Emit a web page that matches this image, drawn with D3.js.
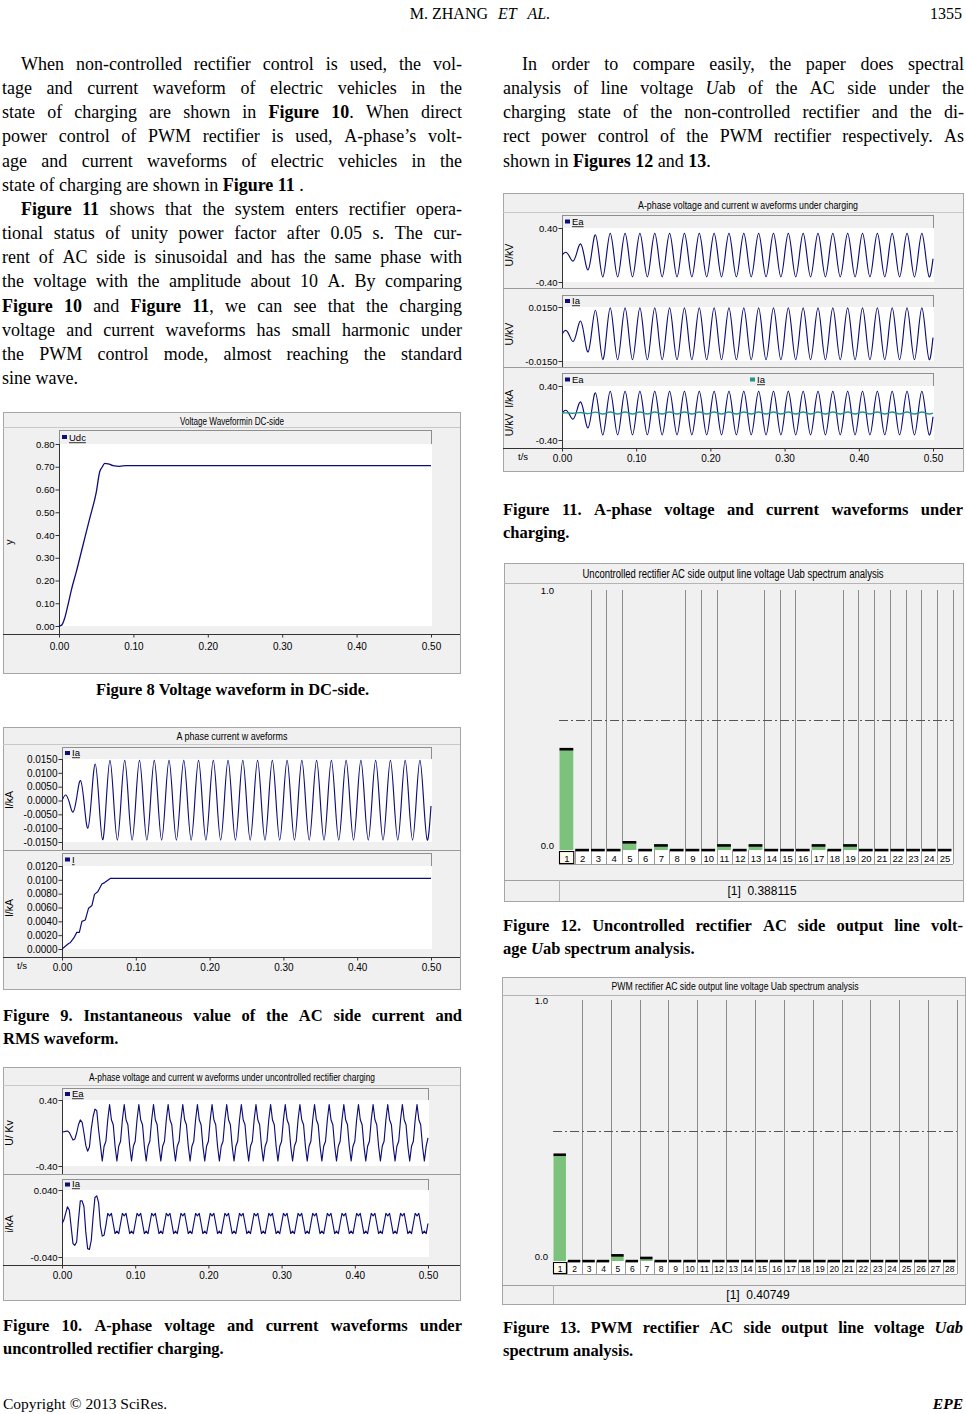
<!DOCTYPE html>
<html><head><meta charset="utf-8">
<script src="https://cdn.jsdelivr.net/npm/d3@7/dist/d3.min.js"></script>
<style>html,body{margin:0;padding:0;background:#fff;} svg{display:block;}</style>
</head><body>
<svg id="page" width="966" height="1414" xmlns="http://www.w3.org/2000/svg"></svg>
<script>
// ================= DATA =================
const timeTickLabels = ["0.00","0.10","0.20","0.30","0.40","0.50"];

// Figure 8: DC-side voltage Udc (t in s, value)
const udcT = [0,0.0036,0.0076,0.012,0.0166,0.0233,0.0323,0.0413,0.0502,0.0547,0.0583,0.0614,0.066,0.0726,0.0816,0.09,0.2,0.3,0.4,0.5];
const udcV = [0,0.004,0.034,0.092,0.158,0.239,0.356,0.473,0.59,0.678,0.70,0.715,0.713,0.705,0.702,0.705,0.705,0.705,0.705,0.705];
const fig8YTicks = ["0.00","0.10","0.20","0.30","0.40","0.50","0.60","0.70","0.80"];

// sample instants, 5 ms apart (PWM waveforms)
const t5 = [0,.005,.01,.015,.02,.025,.03,.035,.04,.045,.05,.055,.06,.065,.07,.075,.08,.085,.09,.095,
.1,.105,.11,.115,.12,.125,.13,.135,.14,.145,.15,.155,.16,.165,.17,.175,.18,.185,.19,.195,
.2,.205,.21,.215,.22,.225,.23,.235,.24,.245,.25,.255,.26,.265,.27,.275,.28,.285,.29,.295,
.3,.305,.31,.315,.32,.325,.33,.335,.34,.345,.35,.355,.36,.365,.37,.375,.38,.385,.39,.395,
.4,.405,.41,.415,.42,.425,.43,.435,.44,.445,.45,.455,.46,.465,.47,.475,.48,.485,.49,.495,.5];

// PWM rectifier A-phase current Ia (kA), read at t5
const iaPwm = [0,.0020,-.0008,-.0042,.0012,.0072,-.0010,-.0100,.0012,.0132,0,-.0142,0,.0145,0,-.0143,0,.0145,0,-.0143,
0,.0145,0,-.0143,0,.0145,0,-.0143,0,.0145,0,-.0143,0,.0145,0,-.0143,0,.0145,0,-.0143,
0,.0145,0,-.0143,0,.0145,0,-.0143,0,.0145,0,-.0143,0,.0145,0,-.0143,0,.0145,0,-.0143,
0,.0145,0,-.0143,0,.0145,0,-.0143,0,.0145,0,-.0143,0,.0145,0,-.0143,0,.0145,0,-.0143,
0,.0145,0,-.0143,0,.0145,0,-.0143,0,.0145,0,-.0143,0,.0145,0,-.0143,0,.0145,0,-.0143,-.0020];

// PWM rectifier A-phase voltage Ea (kV), read at t5
const eaPwm = [0,.04,-.02,-.09,.035,.165,-.02,-.22,.03,.30,-.01,-.325,0,.32,0,-.325,0,.32,0,-.325,
0,.32,0,-.325,0,.32,0,-.325,0,.32,0,-.325,0,.32,0,-.325,0,.32,0,-.325,
0,.32,0,-.325,0,.32,0,-.325,0,.32,0,-.325,0,.32,0,-.325,0,.32,0,-.325,
0,.32,0,-.325,0,.32,0,-.325,0,.32,0,-.325,0,.32,0,-.325,0,.32,0,-.325,
0,.32,0,-.325,0,.32,0,-.325,0,.32,0,-.325,0,.32,0,-.325,0,.32,0,-.325,-.056];

// Figure 9: RMS current I (kA)
const irmsT = [0,0.009,0.011,0.016,0.020,0.0235,0.027,0.0316,0.036,0.0406,0.044,0.0487,0.054,0.0578,0.0654,0.07,0.5];
const irmsV = [0,0.0008,0.0009,0.0016,0.0024,0.0024,0.0040,0.0042,0.0059,0.0063,0.0079,0.0083,0.0094,0.0096,0.0102,0.0102,0.0102];
const fig9aYTicks = ["-0.0150","-0.0100","-0.0050","0.0000","0.0050","0.0100","0.0150"];
const fig9bYTicks = ["0.0000","0.0020","0.0040","0.0060","0.0080","0.0100","0.0120"];

// sample instants, 2.5 ms apart (uncontrolled rectifier waveforms)
const t25 = [0,.0025,.005,.0075,.01,.0125,.015,.0175,.02,.0225,.025,.0275,.03,.0325,.035,.0375,.04,.0425,.045,.0475,
.05,.0525,.055,.0575,.06,.0625,.065,.0675,.07,.0725,.075,.0775,.08,.0825,.085,.0875,.09,.0925,.095,.0975,
.1,.1025,.105,.1075,.11,.1125,.115,.1175,.12,.1225,.125,.1275,.13,.1325,.135,.1375,.14,.1425,.145,.1475,
.15,.1525,.155,.1575,.16,.1625,.165,.1675,.17,.1725,.175,.1775,.18,.1825,.185,.1875,.19,.1925,.195,.1975,
.2,.2025,.205,.2075,.21,.2125,.215,.2175,.22,.2225,.225,.2275,.23,.2325,.235,.2375,.24,.2425,.245,.2475,
.25,.2525,.255,.2575,.26,.2625,.265,.2675,.27,.2725,.275,.2775,.28,.2825,.285,.2875,.29,.2925,.295,.2975,
.3,.3025,.305,.3075,.31,.3125,.315,.3175,.32,.3225,.325,.3275,.33,.3325,.335,.3375,.34,.3425,.345,.3475,
.35,.3525,.355,.3575,.36,.3625,.365,.3675,.37,.3725,.375,.3775,.38,.3825,.385,.3875,.39,.3925,.395,.3975,
.4,.4025,.405,.4075,.41,.4125,.415,.4175,.42,.4225,.425,.4275,.43,.4325,.435,.4375,.44,.4425,.445,.4475,
.45,.4525,.455,.4575,.46,.4625,.465,.4675,.47,.4725,.475,.4775,.48,.4825,.485,.4875,.49,.4925,.495,.4975,.5];

// Figure 10: uncontrolled rectifier Ea (kV), read at t25
const eaUnc = [.010,.015,.020,.024,.005,-.040,-.085,-.075,.000,.100,.158,.130,.000,-.150,-.220,-.170,.050,.200,.290,.270,
.040,-.150,-.340,-.160,-.100,.160,.345,.160,.100,-.160,-.340,-.160,-.100,.160,.345,.160,.100,-.160,-.340,-.160,
-.100,.160,.345,.160,.100,-.160,-.340,-.160,-.100,.160,.345,.160,.100,-.160,-.340,-.160,-.100,.160,.345,.160,
.100,-.160,-.340,-.160,-.100,.160,.345,.160,.100,-.160,-.340,-.160,-.100,.160,.345,.160,.100,-.160,-.340,-.160,
-.100,.160,.345,.160,.100,-.160,-.340,-.160,-.100,.160,.345,.160,.100,-.160,-.340,-.160,-.100,.160,.345,.160,
.100,-.160,-.340,-.160,-.100,.160,.345,.160,.100,-.160,-.340,-.160,-.100,.160,.345,.160,.100,-.160,-.340,-.160,
-.100,.160,.345,.160,.100,-.160,-.340,-.160,-.100,.160,.345,.160,.100,-.160,-.340,-.160,-.100,.160,.345,.160,
.100,-.160,-.340,-.160,-.100,.160,.345,.160,.100,-.160,-.340,-.160,-.100,.160,.345,.160,.100,-.160,-.340,-.160,
-.100,.160,.345,.160,.100,-.160,-.340,-.160,-.100,.160,.345,.160,.100,-.160,-.340,-.160,-.100,.160,.345,.160,
.100,-.160,-.340,-.160,-.100,.160,.345,.160,.100,-.160,-.340,-.160,-.100,.160,.345,.160,.100,-.160,-.340,-.160,-.060];

// Figure 10: uncontrolled rectifier Ia (kA), read at t25
const iaUnc = [0,.004,.012,.020,.016,-.004,-.024,-.026,-.022,.004,.027,.027,.020,-.010,-.030,-.031,-.020,.008,.031,.033,
.025,-.003,-.015,-.014,-.002,.012,.009,.012,0,-.012,-.009,-.012,0,.012,.009,.012,0,-.012,-.009,-.012,
0,.012,.009,.012,0,-.012,-.009,-.012,0,.012,.009,.012,0,-.012,-.009,-.012,0,.012,.009,.012,
0,-.012,-.009,-.012,0,.012,.009,.012,0,-.012,-.009,-.012,0,.012,.009,.012,0,-.012,-.009,-.012,
0,.012,.009,.012,0,-.012,-.009,-.012,0,.012,.009,.012,0,-.012,-.009,-.012,0,.012,.009,.012,
0,-.012,-.009,-.012,0,.012,.009,.012,0,-.012,-.009,-.012,0,.012,.009,.012,0,-.012,-.009,-.012,
0,.012,.009,.012,0,-.012,-.009,-.012,0,.012,.009,.012,0,-.012,-.009,-.012,0,.012,.009,.012,
0,-.012,-.009,-.012,0,.012,.009,.012,0,-.012,-.009,-.012,0,.012,.009,.012,0,-.012,-.009,-.012,
0,.012,.009,.012,0,-.012,-.009,-.012,0,.012,.009,.012,0,-.012,-.009,-.012,0,.012,.009,.012,
0,-.012,-.009,-.012,0,.012,.009,.012,0,-.012,-.009,-.012,0,.012,.009,.012,0,-.012,-.009,-.012,0];
const fig10aYTicks = ["-0.40","0.40"];
const fig10bYTicks = ["-0.040","0.040"];
const fig11aYTicks = ["-0.40","0.40"];
const fig11bYTicks = ["-0.0150","0.0150"];

// Figures 12 / 13: harmonic spectra (per-unit, harmonic order 1..n)
const harmUnc = [0.388115,0,0,0,0.030,0,0.018,0,0,0,0.018,0,0.018,0,0,0,0.018,0,0.018,0,0,0,0,0,0];
const harmPwm = [0.40749,0,0,0,0.022,0,0.012,0,0,0,0,0,0,0,0,0,0,0,0,0,0,0,0,0,0,0,0,0];
const specYTicks = ["0.0","1.0"];
const gridUnc = [2,3,4,8,9,10,13,14,15,18,19,20,21,22,23,24,25];
const gridPwm = [2,4,6,8,10,12,14,16,18,20,22,24,26,28];

// Body text
const bodyLeft = [
 ["When non-controlled rectifier control is used, the vol-","i"],
 ["tage and current waveform of electric vehicles in the","j"],
 ["state of charging are shown in **Figure 10**. When direct","j"],
 ["power control of PWM rectifier is used, A-phase’s volt-","j"],
 ["age and current waveforms of electric vehicles in the","j"],
 ["state of charging are shown in **Figure 11** .","l"],
 ["**Figure 11** shows that the system enters rectifier opera-","i"],
 ["tional status of unity power factor after 0.05 s. The cur-","j"],
 ["rent of AC side is sinusoidal and has the same phase with","j"],
 ["the voltage with the amplitude about 10 A. By comparing","j"],
 ["**Figure 10** and **Figure 11**, we can see that the charging","j"],
 ["voltage and current waveforms has small harmonic under","j"],
 ["the PWM control mode, almost reaching the standard","j"],
 ["sine wave.","l"]
];
const bodyRight = [
 ["In order to compare easily, the paper does spectral","i"],
 ["analysis of line voltage _U_ab of the AC side under the","j"],
 ["charging state of the non-controlled rectifier and the di-","j"],
 ["rect power control of the PWM rectifier respectively. As","j"],
 ["shown in **Figures 12** and **13**.","l"]
];
const cap9 = [["Figure 9. Instantaneous value of the AC side current and","j"],["RMS waveform.","l"]];
const cap10 = [["Figure 10. A-phase voltage and current waveforms under","j"],["uncontrolled rectifier charging.","l"]];
const cap11 = [["Figure 11. A-phase voltage and current waveforms under","j"],["charging.","l"]];
const cap12 = [["Figure 12. Uncontrolled rectifier AC side output line volt-","j"],["age _U_ab spectrum analysis.","l"]];
const cap13 = [["Figure 13. PWM rectifier AC side output line voltage _Uab_","j"],["spectrum analysis.","l"]];

// ================= DRAWING =================
const svg = d3.select("#page");
svg.append("rect").attr("width",966).attr("height",1414).attr("fill","#fff");
const defs = svg.append("defs");
const SERIF = "'Liberation Serif','Times New Roman',Times,serif";
const SANS = "'Liberation Sans',Arial,Helvetica,sans-serif";
const NARROW = "'Liberation Sans Narrow','Arial Narrow','Liberation Sans',Arial,sans-serif";
const PANEL = "#f0f0f0", NAVY = "#0d0d78", TEAL = "#23958c", GREEN = "#7cc27c";

const meas = svg.append("text").attr("x",-3000).attr("y",-3000);
function tw(t,size,fam,bold,it){
  meas.attr("font-family",fam).attr("font-size",size).attr("font-weight",bold?"bold":"normal").attr("font-style",it?"italic":"normal").text(t);
  return meas.node().getComputedTextLength();
}
function parse(s){
  const out=[]; let pend=false;
  const re=/\*\*(.+?)\*\*|_(.+?)_|([^*_]+)/g; let m;
  while((m=re.exec(s))!==null){
    let txt,b=false,it=false;
    if(m[1]!==undefined){txt=m[1];b=true;} else if(m[2]!==undefined){txt=m[2];it=true;} else txt=m[3];
    txt.split(" ").forEach((p,k)=>{ if(k>0) pend=true; if(!p) return; out.push({t:p,b,it,sp:out.length>0&&pend}); pend=false; });
  }
  return out;
}
function textLine(str,mode,x0,x1,y,size,baseBold,indent){
  const ps=parse(str); const words=[];
  ps.forEach(p=>{ p.b=p.b||baseBold; p.w=tw(p.t,size,SERIF,p.b,p.it); if(p.sp||!words.length) words.push([p]); else words[words.length-1].push(p); });
  const tot=d3.sum(words.map(w=>d3.sum(w,p=>p.w)));
  let gap=size*0.25, start=x0+(indent||0), sx=1;
  const W=x1-start;
  if(mode==="j" && words.length>1){ gap=(W-tot)/(words.length-1); if(gap<size*0.12){ gap=size*0.12; sx=W/(tot+gap*(words.length-1)); } }
  if(mode==="c"){ const full=tot+gap*(words.length-1); start=(x0+x1)/2-full/2; }
  const t=svg.append("text").attr("y",y).attr("font-family",SERIF).attr("font-size",size).attr("fill","#000");
  if(sx<1) t.attr("transform",`translate(${start},0) scale(${sx},1) translate(${-start},0)`);
  let x=start;
  words.forEach(w=>{ w.forEach(p=>{ t.append("tspan").attr("x",x).attr("font-weight",p.b?"bold":"normal").attr("font-style",p.it?"italic":"normal").text(p.t); x+=p.w; }); x+=gap; });
}
function block(lines,x0,x1,y0,lh,size,bold,indent){
  lines.forEach((l,i)=>textLine(l[0], l[1]==="i"?"j":l[1], x0,x1, y0+i*lh, size, bold, l[1]==="i"?indent:0));
}

let clipN=0;
function wavePanel(c){
  const g=svg.append("g");
  g.append("rect").attr("x",c.x0+.5).attr("y",c.y0+.5).attr("width",c.x1-c.x0).attr("height",c.y1-c.y0).attr("fill",PANEL).attr("stroke","#a6a6a6");
  g.append("text").attr("x",c.cx).attr("y",c.titleY).attr("text-anchor","middle").attr("font-family",NARROW).attr("font-size",10.5)
    .attr("textLength",c.titleW).attr("lengthAdjust","spacingAndGlyphs").text(c.title);
  g.append("line").attr("x1",c.x0).attr("x2",c.x1).attr("y1",c.titleSep+.5).attr("y2",c.titleSep+.5).attr("stroke","#c8c8c8");
  const x=d3.scaleLinear().domain([0,0.5]).range([c.plotL,c.plotR]);
  c.subs.forEach(s=>{
    const y=d3.scaleLinear().domain(s.domain).range([s.bottom,s.top]);
    g.append("rect").attr("x",c.plotL+.5).attr("y",s.legTop+.5).attr("width",c.plotR-c.plotL).attr("height",s.top-s.legTop).attr("fill",PANEL).attr("stroke","#8e8e8e");
    g.append("rect").attr("x",c.plotL).attr("y",s.top).attr("width",c.plotR-c.plotL+1).attr("height",s.bottom-s.top).attr("fill","#fff");
    const yEnd=s.sepY||c.axisY;
    if(s.sepY) g.append("line").attr("x1",c.x0).attr("x2",c.x1).attr("y1",s.sepY+.5).attr("y2",s.sepY+.5).attr("stroke","#9a9a9a");
    g.append("line").attr("x1",c.plotL+.5).attr("x2",c.plotL+.5).attr("y1",s.top).attr("y2",yEnd).attr("stroke","#333");
    const ax=d3.axisLeft(y).tickValues(s.ticks.map(Number)).tickFormat((d,i)=>s.ticks[i]).tickSize(4).tickSizeOuter(0);
    const ga=g.append("g").attr("transform",`translate(${c.plotL+.5},0)`).call(ax);
    ga.select(".domain").remove();
    ga.attr("font-family",SANS).attr("font-size",s.fs||9.5);
    ga.selectAll(".tick line").attr("stroke","#333");
    ga.selectAll(".tick text").attr("fill","#000").attr("x",-5);
    g.append("text").attr("transform",`translate(${c.ylx},${s.ylY}) rotate(-90)`).attr("text-anchor","middle")
      .attr("font-family",SANS).attr("font-size",10.5).style("white-space","pre").text(s.ylabel);
    const id="clip"+(clipN++);
    defs.append("clipPath").attr("id",id).append("rect").attr("x",c.plotL).attr("y",s.top-1).attr("width",c.plotR-c.plotL+1).attr("height",s.bottom-s.top+2);
    s.series.forEach(se=>{
      const ln=d3.line().x((d,i)=>x(se.t[i])).y(d=>y(d)).curve(se.curve);
      g.append("path").datum(se.v).attr("d",ln).attr("fill","none").attr("stroke",se.color).attr("stroke-width",se.w||1.15)
        .attr("stroke-linejoin","round").attr("clip-path",`url(#${id})`);
    });
    s.legends.forEach(L=>{
      const lx=c.plotL+3+(L.dx||0), ly=s.legTop+(s.top-s.legTop)/2;
      g.append("rect").attr("x",lx).attr("y",ly-2).attr("width",5).attr("height",4).attr("fill",L.color);
      const tt=g.append("text").attr("x",lx+7).attr("y",s.top-3).attr("font-family",SANS).attr("font-size",9.5).attr("fill","#000").text(L.label);
      if(L.u){ const w=tt.node().getComputedTextLength();
        g.append("line").attr("x1",lx+7).attr("x2",lx+7+w).attr("y1",s.top-1.3).attr("y2",s.top-1.3).attr("stroke","#000").attr("stroke-width",.8); }
    });
  });
  g.append("line").attr("x1",c.x0).attr("x2",c.x1).attr("y1",c.axisY+.5).attr("y2",c.axisY+.5).attr("stroke","#333");
  const xa=d3.axisBottom(x).tickValues(timeTickLabels.map(Number)).tickFormat((d,i)=>timeTickLabels[i]).tickSize(3).tickSizeOuter(0);
  const gx=g.append("g").attr("transform",`translate(0,${c.axisY+.5})`).call(xa);
  gx.select(".domain").remove();
  gx.attr("font-family",SANS).attr("font-size",10);
  gx.selectAll(".tick line").attr("stroke","#333");
  gx.selectAll(".tick text").attr("y",c.labelDy).attr("dy",0).attr("fill","#000");
  if(c.tLabel) g.append("text").attr("x",c.tLabel).attr("y",c.axisY+c.labelDy-1).attr("font-family",SANS).attr("font-size",9.5).text("t/s");
}

function specPanel(c){
  const g=svg.append("g");
  g.append("rect").attr("x",c.x0+.5).attr("y",c.y0+.5).attr("width",c.x1-c.x0).attr("height",c.y1-c.y0).attr("fill",PANEL).attr("stroke","#a6a6a6");
  g.append("text").attr("x",c.cx).attr("y",c.titleY).attr("text-anchor","middle").attr("font-family",NARROW).attr("font-size",c.titleFs)
    .attr("textLength",c.titleW).attr("lengthAdjust","spacingAndGlyphs").text(c.title);
  g.append("line").attr("x1",c.x0).attr("x2",c.x1).attr("y1",c.titleSep+.5).attr("y2",c.titleSep+.5).attr("stroke","#b4b4b4");
  const cats=c.vals.map((d,i)=>String(i+1));
  const xb=d3.scaleBand().domain(cats).range([c.plotL,c.plotR]).paddingInner(0).paddingOuter(0);
  const bw=xb.bandwidth();
  const y=d3.scaleLinear().domain([0,1]).range([c.base,c.gridTop]);
  c.grid.forEach(k=>{ const gx=Math.round(xb(String(k))+bw)+.5;
    g.append("line").attr("x1",gx).attr("x2",gx).attr("y1",c.gridTop).attr("y2",c.base).attr("stroke","#8c8c8c"); });
  g.append("line").attr("x1",c.plotL).attr("x2",c.plotR).attr("y1",Math.round(y(0.5))+.5).attr("y2",Math.round(y(0.5))+.5)
    .attr("stroke","#555").attr("stroke-dasharray","9,3,2,3");
  g.append("rect").attr("x",c.plotL).attr("y",c.base).attr("width",c.plotR-c.plotL).attr("height",c.rowH).attr("fill","#fff");
  cats.forEach((k,i)=>{ const gx=Math.round(xb(k)+bw)+.5;
    g.append("line").attr("x1",gx).attr("x2",gx).attr("y1",c.base).attr("y2",c.base+c.rowH).attr("stroke","#9a9a9a"); });
  g.append("line").attr("x1",c.plotL).attr("x2",c.plotR).attr("y1",c.base+c.rowH+.5).attr("y2",c.base+c.rowH+.5).attr("stroke","#9a9a9a");
  g.append("rect").attr("x",xb("1")+.5).attr("y",c.base+1.5).attr("width",bw-1.5).attr("height",c.rowH-2).attr("fill","#fffaf0").attr("stroke","#000").attr("stroke-width",1.1);
  g.selectAll(null).data(c.vals).join("rect").attr("x",(d,i)=>xb(cats[i])+.5).attr("width",bw-2)
    .attr("y",d=>y(d)).attr("height",d=>c.base-y(d)).attr("fill",GREEN);
  g.selectAll(null).data(c.vals).join("rect").attr("x",(d,i)=>xb(cats[i])+.5).attr("width",bw-2)
    .attr("y",d=>y(d)-1.2).attr("height",2.6).attr("fill","#000");
  const xa=d3.axisBottom(xb).tickSize(0);
  const gx=g.append("g").attr("transform",`translate(0,${c.base})`).call(xa);
  gx.select(".domain").remove();
  gx.attr("font-family",SANS).attr("font-size",c.numFs);
  gx.selectAll(".tick text").attr("y",c.rowH-2.5).attr("dy",0).attr("fill","#000");
  const ya=d3.axisLeft(y).tickValues(specYTicks.map(Number)).tickFormat((d,i)=>specYTicks[i]).tickSize(0);
  const gy=g.append("g").attr("transform",`translate(${c.plotL-5},0)`).call(ya);
  gy.select(".domain").remove();
  gy.attr("font-family",SANS).attr("font-size",9.5);
  gy.selectAll(".tick text").attr("x",0).attr("fill","#000").attr("dy",d=>d===0?"-0.2em":"0.32em");
  g.append("line").attr("x1",c.x0).attr("x2",c.x1).attr("y1",c.stripTop+.5).attr("y2",c.stripTop+.5).attr("stroke","#a0a0a0");
  g.append("line").attr("x1",c.plotL+.5).attr("x2",c.plotL+.5).attr("y1",c.stripTop).attr("y2",c.y1).attr("stroke","#b0b0b0");
  g.append("text").attr("x",c.stripX).attr("y",c.stripY).attr("text-anchor","middle").attr("font-family",NARROW).attr("font-size",12)
    .style("white-space","pre").text(`[1]  ${c.vals[0]}`);
}

// ---------- header ----------
const hd=svg.append("text").attr("x",480).attr("y",19).attr("text-anchor","middle").attr("font-family",SERIF).attr("font-size",16);
hd.append("tspan").text("M. ZHANG");
hd.append("tspan").attr("dx",10).attr("font-style","italic").text("ET");
hd.append("tspan").attr("dx",12).attr("font-style","italic").text("AL.");
svg.append("text").attr("x",962).attr("y",19).attr("text-anchor","end").attr("font-family",SERIF).attr("font-size",16).text("1355");

// ---------- body ----------
const LH=24.15;
block(bodyLeft,2,462,70,LH,18,false,19);
block(bodyRight,503,964,70,LH,18,false,19);

// ---------- Figure 8 ----------
wavePanel({x0:3,x1:460,y0:412,y1:673,cx:232,title:"Voltage Waveformin DC-side",titleY:424.5,titleW:104,titleSep:427,
  plotL:59,plotR:431,axisY:634,labelDy:15,ylx:13,
  subs:[{legTop:430,top:444,bottom:626,domain:[0,0.8],ticks:fig8YTicks,ylabel:"y",ylY:542,
    series:[{t:udcT,v:udcV,color:NAVY,curve:d3.curveMonotoneX,w:1.3}],legends:[{label:"Udc",color:NAVY,u:true}]}]});
textLine("Figure 8 Voltage waveform in DC-side.","c",3,462,695,16.5,true);

// ---------- Figure 9 ----------
wavePanel({x0:3,x1:460,y0:727,y1:989,cx:232,title:"A phase current w aveforms",titleY:740,titleW:111,titleSep:744,
  plotL:62,plotR:431,axisY:957,labelDy:13,ylx:13,tLabel:17,
  subs:[
   {legTop:747,top:759,bottom:842,sepY:850,domain:[-0.015,0.015],ticks:fig9aYTicks,fs:10,ylabel:"I/kA",ylY:800,
    series:[{t:t5,v:iaPwm,color:NAVY,curve:d3.curveNatural}],legends:[{label:"Ia",color:NAVY,u:true}]},
   {legTop:853,top:866,bottom:949,domain:[0,0.012],ticks:fig9bYTicks,fs:10,ylabel:"I/kA",ylY:908,
    series:[{t:irmsT,v:irmsV,color:NAVY,curve:d3.curveLinear,w:1.2}],legends:[{label:"I",color:NAVY,u:true}]}
  ]});
block(cap9,3,462,1021,23,16.5,true,0);

// ---------- Figure 10 ----------
wavePanel({x0:3,x1:460,y0:1067,y1:1300,cx:232,title:"A-phase voltage and current w aveforms under uncontrolled rectifier charging",titleY:1081,titleW:286,titleSep:1085,
  plotL:62,plotR:428,axisY:1265,labelDy:13.5,ylx:13,
  subs:[
   {legTop:1088,top:1100,bottom:1166,sepY:1174,domain:[-0.4,0.4],ticks:fig10aYTicks,ylabel:"U/ Kv",ylY:1133,
    series:[{t:t25,v:eaUnc,color:NAVY,curve:d3.curveLinear}],legends:[{label:"Ea",color:NAVY,u:true}]},
   {legTop:1179,top:1190,bottom:1257,domain:[-0.04,0.04],ticks:fig10bYTicks,ylabel:"i/kA",ylY:1224,
    series:[{t:t25,v:iaUnc,color:NAVY,curve:d3.curveLinear}],legends:[{label:"Ia",color:NAVY,u:true}]}
  ]});
block(cap10,3,462,1331,23,16.5,true,0);

// ---------- Figure 11 ----------
wavePanel({x0:503,x1:963,y0:193,y1:471,cx:748,title:"A-phase voltage and current w aveforms under charging",titleY:209,titleW:220,titleSep:212,
  plotL:562,plotR:933,axisY:448,labelDy:13,ylx:513,tLabel:518,
  subs:[
   {legTop:215,top:228,bottom:282,sepY:288,domain:[-0.4,0.4],ticks:fig11aYTicks,ylabel:"U/kV",ylY:255,
    series:[{t:t5,v:eaPwm,color:NAVY,curve:d3.curveNatural}],legends:[{label:"Ea",color:NAVY,u:true}]},
   {legTop:295,top:307,bottom:361,sepY:367,domain:[-0.015,0.015],ticks:fig11bYTicks,ylabel:"U/kV",ylY:334,
    series:[{t:t5,v:iaPwm,color:NAVY,curve:d3.curveNatural}],legends:[{label:"Ia",color:NAVY,u:true}]},
   {legTop:373,top:386,bottom:440,domain:[-0.4,0.4],ticks:fig11aYTicks,ylabel:"U/kV  I/kA",ylY:413,
    series:[{t:t5,v:eaPwm,color:NAVY,curve:d3.curveNatural},{t:t5,v:iaPwm,color:TEAL,curve:d3.curveNatural,w:1.4}],
    legends:[{label:"Ea",color:NAVY,u:false},{label:"Ia",color:TEAL,u:true,dx:185}]}
  ]});
block(cap11,503,963,515,23,16.5,true,0);

// ---------- Figure 12 ----------
specPanel({x0:504,x1:963,y0:563,y1:901,cx:733,title:"Uncontrolled rectifier AC side output line voltage Uab spectrum analysis",titleY:577.5,titleW:301,titleFs:12,titleSep:583,
  plotL:559,plotR:953,gridTop:590,base:850,rowH:14,numFs:9.5,vals:harmUnc,grid:gridUnc,stripTop:880,stripX:762,stripY:895});
block(cap12,503,963,931,23,16.5,true,0);

// ---------- Figure 13 ----------
specPanel({x0:502,x1:965,y0:977,y1:1304,cx:735,title:"PWM rectifier AC side output line voltage Uab spectrum analysis",titleY:990,titleW:247,titleFs:11,titleSep:995,
  plotL:553,plotR:957,gridTop:1000,base:1261,rowH:13,numFs:8.5,vals:harmPwm,grid:gridPwm,stripTop:1285,stripX:758,stripY:1299});
block(cap13,503,963,1333,23,16.5,true,0);

// ---------- footer ----------
svg.append("text").attr("x",3).attr("y",1409).attr("font-family",SERIF).attr("font-size",15.5).text("Copyright © 2013 SciRes.");
svg.append("text").attr("x",963).attr("y",1409).attr("text-anchor","end").attr("font-family",SERIF).attr("font-size",15.5)
  .attr("font-weight","bold").attr("font-style","italic").text("EPE");
meas.remove();
</script>
</body></html>
